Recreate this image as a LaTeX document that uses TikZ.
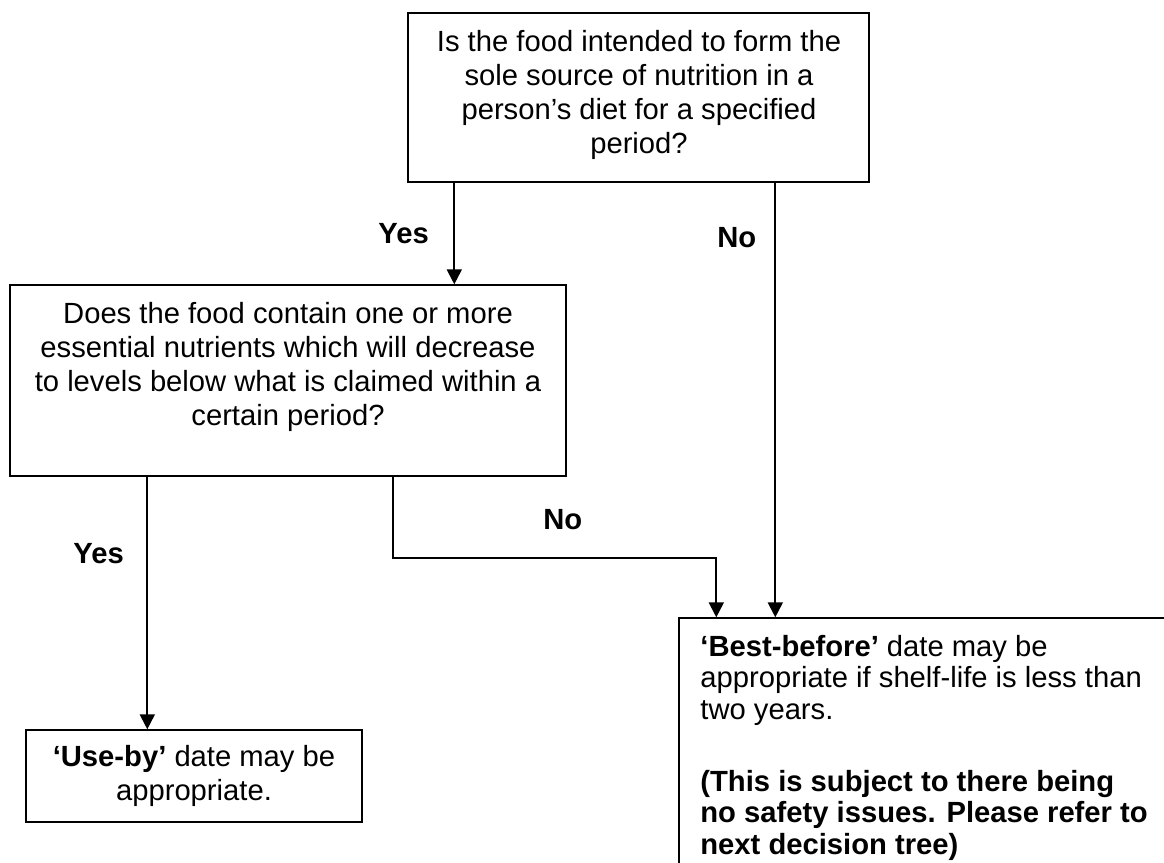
\documentclass[tikz,border=0pt]{standalone}
\usepackage{fontspec}
\setmainfont{Liberation Sans}
\usetikzlibrary{fit,arrows.meta}
\begin{document}
\begin{tikzpicture}[x=0.5pt,y=-0.5pt,
  box/.style={draw=black,line width=0.7pt,inner sep=0pt},
  txt/.style={font=\fontsize{14.6}{16.9}\selectfont,inner sep=0pt},
  txtb/.style={font=\fontsize{14.6}{15.75}\selectfont,inner sep=0pt},
  lbl/.style={font=\fontsize{14.6}{16}\selectfont\bfseries,inner sep=0pt,anchor=base west},
  arr/.style={line width=1pt,-{Triangle[width=7.5pt,length=7.5pt]}},
  conn/.style={line width=1pt}]
\useasboundingbox (0,0) rectangle (1164,863);
% boxes
\node[box,fit={(408,13) (869,182)}] (A) {};
\node[box,fit={(10,285) (566,476)}] (B) {};
\node[box,fit={(26,730) (362,822)}] (U) {};
\node[box,fit={(679,618) (1200,900)}] (C) {};
% texts
\node[txt,align=center,anchor=base] (At) at (639,153) {Is the food intended to form the\\sole source of nutrition in a\\person’s diet for a specified\\period?};
\node[txt,align=center,anchor=base] (Bt) at (288,425) {Does the food contain one or more\\essential nutrients which will decrease\\to levels below what is claimed within a\\certain period?};
\node[txt,align=center,anchor=base] (Ut) at (194,800) {\textbf{‘Use-by’} date may be\\appropriate.};
\node[txtb,align=left,anchor=base west] (Ct) at (700,854) {\textbf{‘Best-before’} date may be\\appropriate if shelf-life is less than\\two years.\\[20.25pt]\bfseries(This is subject to there being\\\bfseries no safety issues. Please refer to\\\bfseries next decision tree)};
% labels
\node[lbl] (yes1) at (378,243) {Yes};
\node[lbl] (no1) at (717,247) {No};
\node[lbl] (yes2) at (73,563) {Yes};
\node[lbl] (no2) at (543,529) {No};
% connectors
\draw[arr] ([xshift=23.5pt]A.south west) -- ([xshift=23.5pt]A.south west |- B.north);
\draw[arr] ([xshift=184pt]A.south west) -- ([xshift=184pt]A.south west |- C.north);
\draw[arr] ([xshift=69pt]B.south west) -- ([xshift=69pt]B.south west |- U.north);
\draw[arr] ([xshift=192pt]B.south west) -- ++(0,81) -| ([xshift=19pt]C.north west);
\end{tikzpicture}
\end{document}
